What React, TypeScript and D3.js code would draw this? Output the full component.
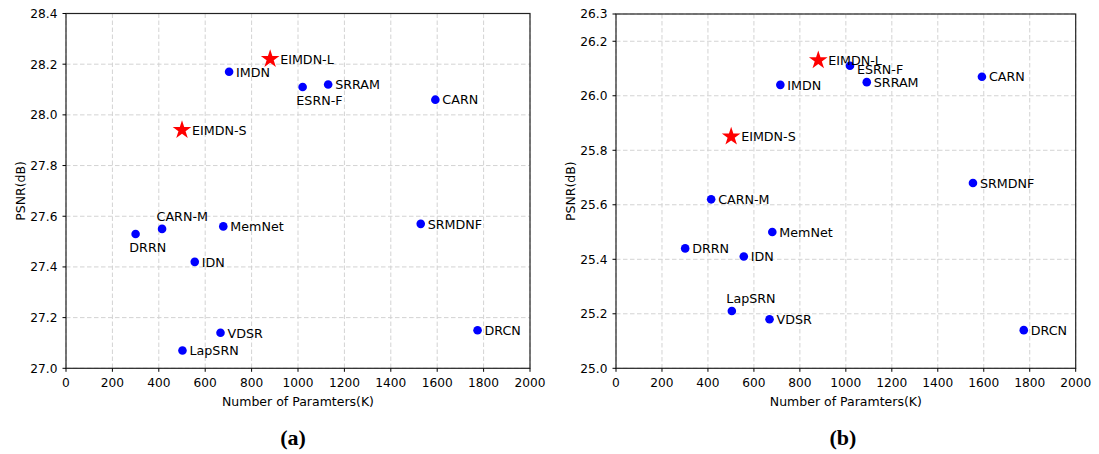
import React from "react";
import * as d3 from "d3";

// ---------- Data ----------
const namesA = ["EIMDN-L", "IMDN", "ESRN-F", "SRRAM", "CARN", "EIMDN-S", "CARN-M", "DRRN", "MemNet", "SRMDNF", "IDN", "DRCN", "VDSR", "LapSRN"];
const paramsA = [880, 703, 1020, 1130, 1592, 500, 414, 300, 678, 1529, 555, 1774, 666, 502];
const psnrA = [28.22, 28.17, 28.11, 28.12, 28.06, 27.94, 27.55, 27.53, 27.56, 27.57, 27.42, 27.15, 27.14, 27.07];
const placeA = ["right", "right", "below", "right", "right", "right", "above", "below", "right", "right", "right", "right", "right", "right"];
const oursA = [true, false, false, false, false, true, false, false, false, false, false, false, false, false];

const namesB = ["EIMDN-L", "ESRN-F", "CARN", "SRRAM", "IMDN", "EIMDN-S", "SRMDNF", "CARN-M", "MemNet", "DRRN", "IDN", "LapSRN", "VDSR", "DRCN"];
const paramsB = [880, 1018, 1592, 1091, 715, 501, 1553, 414, 680, 301, 556, 504, 668, 1774];
const psnrB = [26.13, 26.11, 26.07, 26.05, 26.04, 25.85, 25.68, 25.62, 25.50, 25.44, 25.41, 25.21, 25.18, 25.14];
const placeB = ["right", "rightlow", "right", "right", "right", "right", "right", "right", "right", "right", "right", "above", "right", "right"];
const oursB = [true, false, false, false, false, true, false, false, false, false, false, false, false, false];

const xTicks = [0, 200, 400, 600, 800, 1000, 1200, 1400, 1600, 1800, 2000];
const yTicksA = [27.0, 27.2, 27.4, 27.6, 27.8, 28.0, 28.2, 28.4];
const yTicksB = [25.0, 25.2, 25.4, 25.6, 25.8, 26.0, 26.2, 26.3];

const FONT = "'DejaVu Sans', sans-serif";

type PanelProps = {
  x0: number; x1: number; yTop: number; yBot: number;
  yDomain: [number, number]; yTicks: number[];
  names: string[]; xs: number[]; ys: number[]; place: string[]; ours: boolean[];
  caption: string; capX: number;
};

function Panel(p: PanelProps) {
  const x = d3.scaleLinear().domain([0, 2000]).range([p.x0, p.x1]);
  const y = d3.scaleLinear().domain(p.yDomain).range([p.yBot, p.yTop]);
  const fmt = d3.format(".1f");
  const star = d3.symbol().type(d3.symbolStar).size(108)()!;
  const cx = (p.x0 + p.x1) / 2;
  const cy = (p.yTop + p.yBot) / 2;
  return (
    <g>
      {/* grid */}
      {xTicks.map((t) => (
        <line key={"gx" + t} x1={x(t)} x2={x(t)} y1={p.yTop} y2={p.yBot} stroke="#d3d3d3" strokeWidth={1} strokeDasharray="4.5,2.5" />
      ))}
      {p.yTicks.map((t) => (
        <line key={"gy" + t} x1={p.x0} x2={p.x1} y1={y(t)} y2={y(t)} stroke="#d3d3d3" strokeWidth={1} strokeDasharray="4.5,2.5" />
      ))}
      {/* frame */}
      <rect x={p.x0} y={p.yTop} width={p.x1 - p.x0} height={p.yBot - p.yTop} fill="none" stroke="#222" strokeWidth={1.2} />
      {/* x ticks */}
      {xTicks.map((t) => (
        <g key={"xt" + t}>
          <line x1={x(t)} x2={x(t)} y1={p.yBot} y2={p.yBot + 3.5} stroke="#000" />
          <text x={x(t)} y={p.yBot + 19} textAnchor="middle" fontSize={12.2} fontFamily={FONT} fill="#000">{t}</text>
        </g>
      ))}
      {/* y ticks */}
      {p.yTicks.map((t) => (
        <g key={"yt" + t}>
          <line x1={p.x0 - 3.5} x2={p.x0} y1={y(t)} y2={y(t)} stroke="#000" />
          <text x={p.x0 - 8.5} y={y(t) + 4.4} textAnchor="end" fontSize={12.2} fontFamily={FONT} fill="#000">{fmt(t)}</text>
        </g>
      ))}
      {/* axis labels */}
      <text x={cx} y={p.yBot + 37.5} textAnchor="middle" fontSize={12.5} fontFamily={FONT} fill="#000">Number of Paramters(K)</text>
      <text transform={`translate(${p.x0 - 41},${cy}) rotate(-90)`} textAnchor="middle" fontSize={12.5} fontFamily={FONT} fill="#000">PSNR(dB)</text>
      {/* points */}
      {p.names.map((n, i) => {
        const px = x(p.xs[i]);
        const py = y(p.ys[i]);
        return p.ours[i] ? (
          <path key={"m" + n} d={star} transform={`translate(${px},${py})`} fill="#ff0000" />
        ) : (
          <circle key={"m" + n} cx={px} cy={py} r={4.3} fill="#0000ff" />
        );
      })}
      {/* labels */}
      {p.names.map((n, i) => {
        const px = x(p.xs[i]);
        const py = y(p.ys[i]);
        let dx = p.ours[i] ? 10 : 7;
        let dy = 4.8;
        if (p.place[i] === "below") { dx = -6.3; dy = 17.8; }
        else if (p.place[i] === "above") { dx = -5.5; dy = -8; }
        else if (p.place[i] === "rightlow") { dy = 8; }
        return (
          <text key={"l" + n} x={px + dx} y={py + dy} fontSize={12.7} fontFamily={FONT} fill="#000">{n}</text>
        );
      })}
      {/* caption */}
      <text x={p.capX} y={445} textAnchor="middle" fontSize={22} fontWeight="bold" fontFamily="'Liberation Serif', 'Times New Roman', serif" fill="#000">{p.caption}</text>
    </g>
  );
}

export default function App() {
  return (
    <svg width={1099} height={454} style={{ position: "absolute", left: 0, top: 0, background: "#fff" }}>
      <rect width={1099} height={454} fill="#fff" />
      <Panel x0={66} x1={530} yTop={13.5} yBot={368.3} yDomain={[27.0, 28.4]} yTicks={yTicksA}
        names={namesA} xs={paramsA} ys={psnrA} place={placeA} ours={oursA} caption="(a)" capX={293} />
      <Panel x0={616} x1={1075.7} yTop={14} yBot={368.3} yDomain={[25.0, 26.3]} yTicks={yTicksB}
        names={namesB} xs={paramsB} ys={psnrB} place={placeB} ours={oursB} caption="(b)" capX={843} />
    </svg>
  );
}
